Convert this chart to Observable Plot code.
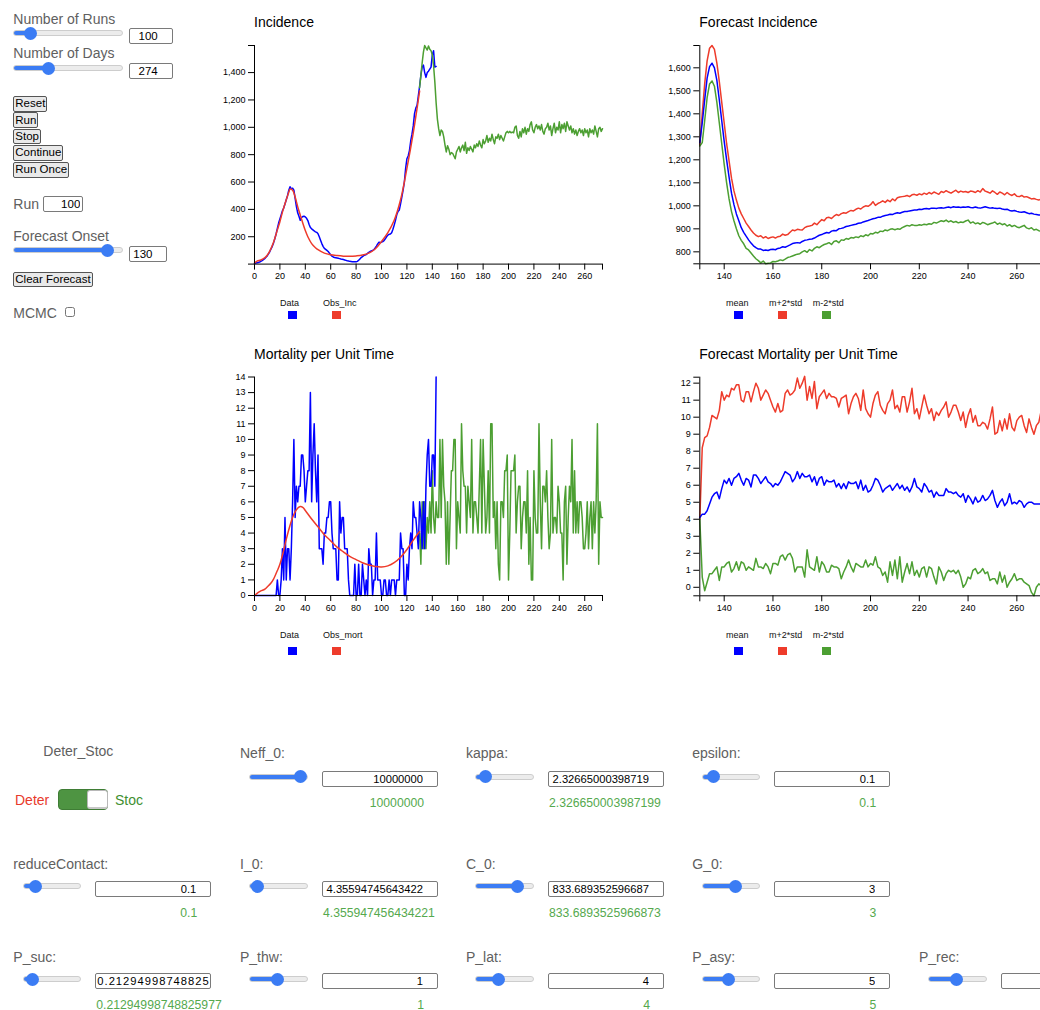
<!DOCTYPE html>
<html><head><meta charset="utf-8">
<script src="https://cdn.jsdelivr.net/npm/d3@7"></script>
<script src="https://cdn.jsdelivr.net/npm/@observablehq/plot@0.6"></script>
<style>
body{margin:0;width:1040px;height:1010px;overflow:hidden;position:relative;font-family:"Liberation Sans",Arial,Helvetica,sans-serif;background:#fff;}
.abs{position:absolute;white-space:nowrap;line-height:1;}
.lbl{font-size:14px;color:#606060;}
.ttl{font-size:14px;color:#000;}
.leg{font-size:9px;color:#111;}
.sq{position:absolute;width:9px;height:8.5px;}
.green{font-size:12.2px;color:#55a94e;box-sizing:border-box;text-align:right;}
input[type=range]{-webkit-appearance:none;appearance:none;position:absolute;margin:0;padding:0;height:16px;background:transparent;}
input[type=range]::-webkit-slider-runnable-track{height:6px;border-radius:3px;border:1px solid #cdcdcd;background:linear-gradient(to right,#3b7cf4 0,#3b7cf4 var(--p),#ececec var(--p),#ececec 100%);}
input[type=range]::-webkit-slider-thumb{-webkit-appearance:none;appearance:none;width:13px;height:13px;border-radius:50%;background:#3b7cf4;margin-top:-4.5px;border:none;}
input.box{position:absolute;box-sizing:border-box;margin:0;border:1px solid #7a7a7a;border-radius:2px;font-family:inherit;font-size:11.2px;text-align:right;padding:0 14px 0 1px;background:#fff;color:#000;height:16px;}
button{position:absolute;margin:0;padding:0 1px;height:15.5px;font-family:inherit;font-size:11.5px;line-height:13px;border:1px solid #555;border-radius:2px;background:#e9e9e9;color:#000;white-space:nowrap;}
svg{position:absolute;}
</style>
</head><body>
<script>
// ---------------- DATA ----------------
const incDataVals = [5,8,10,12,15,20,25,32,40,50, 60,75,90,110,130,155,185,220,260,300, 330,360,390,410,440,470,500,540,565,550, 555,540,480,420,375,350,320,340,348,350, 345,335,318,290,268,258,250,242,236,232, 222,200,175,150,130,115,108,100,92,80, 68,58,52,48,46,44,42,40,37,35, 33,30,27,24,22,20,19,18,18,17, 17,20,28,38,48,55,62,66,70,78, 86,92,96,100,106,118,132,148,160,158, 160,165,172,185,200,212,218,220,230,255, 285,320,360,385,395,440,490,540,600,700, 770,790,830,900,950,1010,1100,1140,1160,1230, 1300,1380,1440,1455,1400,1365,1400,1410,1425,1440, 1530,1560,1440,1445];
const obsIncDays = [0,2,5,8,10,12,15,18,20,22,25,27,28,30,32,34,36,38,40,42,45,48,50,55,60,65,70,75,80,85,90,95,100,105,110,115,120,125,130];
const obsIncVals = [8,22,30,45,65,95,160,250,310,380,470,525,548,540,490,420,360,300,245,200,150,120,105,80,68,62,58,57,60,66,80,110,165,230,320,470,700,960,1265];
const incSimVals = [1290,1380,1470,1550,1598,1580,1565,1595,1570,1560,
 1530,1450,1330,1180,1060,990,940,980,970,930,
 870,820,865,840,800,815,810,790,770,820,
 840,860,820,850,870,830,890,810,850,830,
 860,840,820,870,850,880,860,900,870,850,
 910,880,900,940,890,920,900,950,910,880,
 930,920,950,910,940,920,900,930,960,970,
 960,970,960,965,960,1000,1010,940,920,970,
 930,990,960,1000,950,990,970,1020,1040,980,
 960,1000,1020,990,1010,980,1020,970,950,990,
 1000,1030,980,1010,940,990,1030,960,1000,980,
 1040,960,1020,990,1030,970,1040,1010,980,1010,
 960,990,950,980,940,970,990,960,980,940,
 990,960,980,930,990,960,980,950,1010,970,
 930,990,1000,970,990];

const mortDataVals = [0,0,0,0,0,0,0,0,0,0, 0,0,0,0,0,0,0,0,1,0, 0,1,3,1,5,1,3,3,1,3, 6,10,5,7,6,7,7,9,9,8, 6,7,8,8,13,6,9,11,8,6, 9,3,3,3,2,4,4,5,5,6, 6,4,3,3,3,1,1,6,4,5, 5,3,3,3,1,0,0,0,0,2, 0,0,2,0,0,2,1,0,1,0, 3,2,2,0,1,1,4,1,1,1, 0,0,1,1,0,0,1,0,1,1, 1,0,1,1,1,4,3,3,0,0, 2,1,3,4,3,6,5,5,4,3, 6,5,3,6,3,7,9,10,7,7, 9,9,7,14];
const obsMortDays = [0,3,5,8,10,13,15,18,20,23,25,28,30,33,36,38,40,45,50,55,60,65,70,75,80,85,90,95,100,105,110,115,120,125,130];
const obsMortVals = [0,0.2,0.3,0.4,0.55,0.8,1.05,1.6,2.0,2.9,3.6,4.5,5.0,5.5,5.7,5.65,5.45,4.9,4.4,3.9,3.5,3.1,2.8,2.5,2.3,2.1,1.95,1.86,1.83,1.9,2.1,2.45,2.95,3.55,4.1];
const mortSimVals = [4,2,6,3,6,3,5,4,6,4,
 8,5,4,6,5,5,10,5,10,7,
 6,2,6,2,5,8,8,10,10,3,
 6,5,4,11,8,7,7,4,7,6,
 5,10,4,6,6,5,4,7,10,4,
 10,7,4,5,8,4,11,11,5,6,
 3,6,2,1,6,6,5,8,8,9,
 1,4,8,8,8,9,4,6,7,7,
 3,5,6,6,4,8,2,5,1,1,
 8,5,4,4,11,6,3,7,7,6,
 8,5,3,4,10,4,5,5,4,7,
 6,4,4,1,6,7,2,5,7,6,
 10,4,8,4,6,4,6,6,5,3,
 3,4,6,3,5,6,3,6,4,6,
 11,2,6,5,5];

const fIncMean = [1275,1360,1460,1555,1605,1620,1600,1545,1460,1370,
 1280,1200,1125,1055,1005,965,935,905,885,868,
 852,838,826,818,812,812,806,808,806,810,
 811,809,815,817,822,820,825,830,836,838,
 840,838,845,850,852,855,856,860,866,872,
 875,880,884,882,890,893,892,900,902,905,
 910,912,915,918,920,924,925,930,933,936,
 940,944,946,950,950,955,958,960,963,962,
 967,970,968,972,975,975,978,980,982,982,
 985,984,987,988,986,990,990,988,991,992,
 990,993,995,992,996,994,995,993,995,994,
 996,993,992,995,992,990,993,996,993,990,
 992,989,988,990,986,984,985,980,978,980,
 976,973,972,974,970,966,968,964,962,960,
 961,958,960,957,955];
const fIncUp = [1265,1400,1530,1630,1685,1697,1680,1620,1540,1450,
 1360,1270,1195,1120,1065,1025,990,965,945,925,
 910,895,882,872,866,870,860,866,858,862,
 865,860,866,868,877,872,875,885,895,892,
 898,896,895,905,910,912,915,925,918,930,
 940,935,948,950,945,955,962,958,966,970,
 968,975,980,978,985,990,986,995,1000,998,
 1005,1018,1002,1010,1015,1022,1015,1025,1018,1030,
 1022,1035,1038,1040,1042,1045,1040,1048,1050,1046,
 1052,1048,1055,1050,1058,1052,1060,1055,1050,1062,
 1058,1066,1060,1055,1062,1068,1058,1064,1060,1062,
 1058,1064,1062,1058,1066,1060,1075,1064,1060,1055,
 1065,1058,1050,1060,1055,1048,1058,1050,1045,1052,
 1042,1040,1045,1038,1040,1035,1030,1032,1028,1025,
 1030,1026,1022,1025,1020];
const fIncLow = [1260,1275,1370,1470,1530,1543,1520,1450,1360,1270,
 1180,1100,1030,975,935,900,870,850,835,815,
 808,795,782,770,762,752,760,748,750,752,
 758,757,760,765,762,768,775,778,782,786,
 790,792,800,805,798,810,804,815,822,818,
 826,832,835,840,832,845,848,840,852,850,
 858,855,862,860,865,862,870,866,874,870,
 880,878,885,882,890,888,895,892,898,900,
 896,900,898,905,910,915,912,918,915,914,
 918,916,920,918,922,920,928,925,930,935,
 932,938,930,935,928,932,926,930,928,934,
 938,925,930,922,926,920,928,924,918,922,
 925,930,920,925,918,922,912,918,910,915,
 908,905,910,915,904,900,905,895,898,892,
 890,894,888,890,886];

const fMortMean = [4.1,4.3,4.3,4.5,4.9,5.3,5.5,5.6,5.2,5.8,
 6.3,6.1,6.4,6.0,6.4,6.5,6.7,6.3,6.0,6.4,
 6.3,5.9,6.6,6.6,6.4,6.1,6.3,6.5,6.2,6.1,
 5.9,6.1,6.0,6.2,6.5,6.8,6.7,6.6,6.2,6.4,
 6.8,6.4,6.7,6.5,6.5,6.6,6.2,6.5,6.0,6.4,
 6.5,6.0,6.3,6.2,6.2,6.3,5.9,6.1,5.8,6.1,
 5.8,6.2,6.1,6.1,6.2,5.8,6.3,5.7,6.0,5.6,
 5.7,6.0,6.4,6.3,6.0,5.6,5.8,5.9,6.0,5.7,
 5.9,6.1,5.8,6.0,5.7,5.9,5.6,5.9,6.4,5.9,
 5.8,5.6,6.1,5.9,5.6,5.7,5.3,5.6,5.4,5.4,
 5.4,5.8,5.6,5.6,5.5,5.6,5.4,5.3,5.5,5.0,
 5.4,5.2,4.9,5.3,5.0,5.1,5.4,5.1,5.2,5.4,
 5.7,5.1,4.7,5.0,5.2,4.8,5.0,5.5,4.9,5.0,
 4.9,5.1,5.0,4.7,4.9,5.0,5.0,4.9,4.9,4.9,
 4.9,4.9,4.9,4.9,4.9];
const fMortUp = [4.0,8.2,8.8,8.9,9.4,10.1,10.0,9.9,10.4,11.5,
 11.0,11.3,11.2,11.7,11.6,11.9,11.9,11.0,10.9,11.5,
 11.5,10.9,11.5,12.0,11.7,11.0,11.3,11.6,11.4,11.0,
 10.6,10.3,10.8,10.3,10.4,11.4,11.6,11.3,11.4,11.6,
 12.3,11.7,12.0,12.4,11.0,11.8,11.1,12.1,10.5,11.2,
 11.4,11.6,11.1,11.4,11.2,11.2,11.1,10.6,11.1,11.2,
 11.3,10.2,10.8,11.2,11.4,11.1,10.4,11.6,10.5,10.2,
 10.0,10.8,11.3,11.5,10.7,10.4,10.2,10.8,11.0,11.6,
 10.5,10.7,10.3,11.2,11.2,10.3,10.9,11.7,10.2,10.5,
 9.9,10.6,11.3,10.7,10.2,10.5,9.8,10.3,10.1,10.4,
 10.6,10.9,10.0,10.3,10.7,10.7,10.3,9.8,10.3,9.4,
 10.1,10.5,9.7,10.1,9.5,9.5,9.7,9.6,9.3,9.9,
 10.6,9.0,9.1,9.8,9.2,9.9,9.3,10.2,9.4,9.2,
 9.8,10.0,10.1,9.5,9.1,9.9,9.4,9.0,9.5,9.7,
 10.4,9.8,9.9,10.0,9.7];
const fMortLow = [4.0,0.6,-0.2,0.3,0.8,0.8,1.0,1.2,0.4,1.2,
 1.2,1.4,1.5,0.9,1.1,1.5,1.0,1.5,1.4,1.0,
 1.2,1.1,1.0,1.7,1.2,1.2,1.1,1.4,1.2,0.8,
 1.4,1.4,1.3,1.8,1.9,1.6,1.9,2.0,1.7,0.9,
 1.2,1.2,1.2,0.6,2.2,1.2,1.1,1.0,1.8,0.9,
 1.5,1.3,0.9,0.9,1.3,1.2,1.2,1.1,0.5,0.9,
 1.2,1.6,1.2,0.9,1.4,1.3,1.2,1.2,1.6,1.2,
 1.4,1.3,1.8,1.2,1.1,0.7,0.9,0.3,1.5,0.7,
 1.6,0.5,1.8,0.3,0.9,1.4,0.8,1.5,0.7,1.0,
 0.6,1.1,1.2,0.6,1.2,1.1,0.6,0.2,1.2,0.9,
 0.4,0.8,1.0,0.9,1.0,0.8,1.0,0.6,0.0,0.2,
 0.6,0.5,1.0,1.1,0.8,0.9,1.1,0.8,0.9,0.4,
 0.5,0.5,0.2,0.9,0.3,0.7,0.0,0.3,0.5,0.8,
 0.4,0.5,0.5,0.3,0.2,0.1,-0.3,-0.5,0.0,0.2,
 0.1,0.3,0.2,0.0,0.1];

const xTicksFull = [0,20,40,60,80,100,120,140,160,180,200,220,240,260];
const xTicksFc = [140,160,180,200,220,240,260];
const yTicksInc = [200,400,600,800,1000,1200,1400];
const yTicksFcInc = [800,900,1000,1100,1200,1300,1400,1500,1600];
const yTicksMort = [0,1,2,3,4,5,6,7,8,9,10,11,12,13,14];
const yTicksFcMort = [0,1,2,3,4,5,6,7,8,9,10,11,12];

const BLUE = "#0000ff", RED = "#ee3b2b", GREEN = "#4c9f32";

// controls
const paramNames = ["Neff_0:","kappa:","epsilon:","reduceContact:","I_0:","C_0:","G_0:","P_suc:","P_thw:","P_lat:","P_asy:","P_rec:"];
const paramInputs = ["10000000","2.32665000398719","0.1","0.1","4.35594745643422","833.689352596687","3","0.21294998748825","1","4","5",""];
const paramShown = ["10000000","2.326650003987199","0.1","0.1","4.355947456434221","833.6893525966873","3","0.21294998748825977","1","4","5",""];
const paramFrac = [1,0.06,0.09,0.13,0.02,0.8,0.61,0.06,0.47,0.36,0.45,0.47];
const paramRow = [0,0,0,1,1,1,1,2,2,2,2,2];
const paramCol = [1,2,3,0,1,2,3,0,1,2,3,4];

// ---------------- HELPERS ----------------
const series = (start, vals) => vals.map((v, i) => ({x: start + i, y: v}));
const pairs = (xs, ys) => xs.map((x, i) => ({x, y: ys[i]}));
function el(tag, cls, css, text) {
  const e = document.createElement(tag);
  if (cls) e.className = cls;
  Object.assign(e.style, css || {});
  if (text != null) e.textContent = text;
  document.body.appendChild(e);
  return e;
}
function text(cls, left, top, t, extra) { return el("div", "abs " + cls, Object.assign({left: left + "px", top: top + "px"}, extra || {}), t); }
function slider(left, top, width, frac) {
  const s = el("input", "", {left: left + "px", top: top + "px", width: width + "px"});
  s.type = "range"; s.min = 0; s.max = 1000; s.value = Math.round(frac * 1000);
  const p = (6.5 + frac * (width - 13)) / width * 100;
  s.style.setProperty("--p", p + "%");
  return s;
}
function box(left, top, width, value, css) {
  const b = el("input", "box", Object.assign({left: left + "px", top: top + "px", width: width + "px"}, css || {}));
  b.type = "text"; b.value = value;
  return b;
}
function button(left, top, label) { return el("button", "", {left: left + "px", top: top + "px"}, label); }

function chart(cfg) {
  const fmt = d3.format(",");
  const [x0, x1] = cfg.xDomain, [y0, y1] = cfg.yDomain;
  const marks = cfg.series.map(s => Plot.line(s.data, {x: "x", y: "y", stroke: s.color, strokeWidth: 1.5, curve: s.curve || "linear"}));
  const xt = Array.from(new Set([...cfg.xTicks, x0, x1]));
  const yt = Array.from(new Set([...cfg.yTicks, y0, y1]));
  marks.push(
    Plot.ruleX([x0], {stroke: "#000"}),
    Plot.ruleY([y0], {stroke: "#000"}),
    Plot.axisX({ticks: xt, tickSize: 6, tickPadding: 3, label: null, stroke: "#000",
      tickFormat: d => cfg.xTicks.includes(d) ? fmt(d) : ""}),
    Plot.axisY({ticks: yt, tickSize: 6, tickPadding: 3, label: null, stroke: "#000",
      tickFormat: d => cfg.yTicks.includes(d) ? fmt(d) : ""})
  );
  const svg = Plot.plot({
    width: cfg.width, height: cfg.height,
    marginLeft: cfg.m[0], marginRight: cfg.m[1], marginTop: cfg.m[2], marginBottom: cfg.m[3],
    x: {domain: cfg.xDomain, label: null},
    y: {domain: cfg.yDomain, label: null},
    style: {fontFamily: '"Liberation Sans", Arial, sans-serif', fontSize: "9px", color: "#000", background: "transparent", overflow: "visible"},
    marks
  });
  svg.style.position = "absolute";
  svg.style.left = cfg.left + "px";
  svg.style.top = cfg.top + "px";
  document.body.appendChild(svg);
}
function legend(items, textTop, sqTop) {
  for (const it of items) {
    text("leg", it.tx, textTop, it.label);
    el("div", "sq", {left: it.sx + "px", top: sqTop + "px", background: it.color});
  }
}

// ---------------- LEFT PANEL ----------------
text("lbl", 13.3, 12.2, "Number of Runs");
slider(13.3, 25.3, 110, 0.105);
box(129.3, 28, 43.4, "100", {fontSize: "11.5px", padding: "0 14px 0 1px"});
text("lbl", 13.3, 45.9, "Number of Days");
slider(13.3, 60, 110, 0.29);
box(129.3, 62.8, 43.4, "274", {fontSize: "11.5px", padding: "0 14px 0 1px"});
button(13.3, 96, "Reset");
button(13.3, 112.4, "Run");
button(13.3, 128.6, "Stop");
button(13.3, 145, "Continue");
button(13.3, 162, "Run Once");
text("lbl", 13.3, 197.2, "Run");
box(42.7, 195.5, 40.6, "100", {fontSize: "11.5px", padding: "0 2px 0 1px"});
text("lbl", 13.3, 228.8, "Forecast Onset");
slider(13.3, 242, 110, 0.91);
box(129.3, 246, 38, "130", {fontSize: "11.5px", padding: "0 1px 0 3px", textAlign: "left"});
button(13.3, 271.5, "Clear Forecast");
text("lbl", 13.3, 305.5, "MCMC");
const cb = el("input", "", {position: "absolute", left: "64.5px", top: "307px", width: "10px", height: "10px", margin: "0"});
cb.type = "checkbox";

// ---------------- CHARTS ----------------
text("ttl", 254, 15.4, "Incidence");
chart({left: 200, top: 30, width: 420, height: 260, m: [54, 18, 15, 26.4],
  xDomain: [0, 274], yDomain: [0, 1598], xTicks: xTicksFull, yTicks: yTicksInc,
  series: [
    {data: series(0, incDataVals), color: BLUE},
    {data: pairs(obsIncDays, obsIncVals), color: RED, curve: "catmull-rom"},
    {data: series(130, incSimVals), color: GREEN}
  ]});
legend([{label: "Data", tx: 280, sx: 288.3, color: BLUE}, {label: "Obs_Inc", tx: 323, sx: 332.3, color: RED}], 298.8, 310.8);

text("ttl", 699.3, 15.4, "Forecast Incidence");
chart({left: 645, top: 30, width: 420, height: 260, m: [54.3, 14.5, 15, 26.7],
  xDomain: [130, 274], yDomain: [748, 1697], xTicks: xTicksFc, yTicks: yTicksFcInc,
  series: [
    {data: series(130, fIncUp), color: RED},
    {data: series(130, fIncLow), color: GREEN},
    {data: series(130, fIncMean), color: BLUE}
  ]});
legend([{label: "mean", tx: 726, sx: 734, color: BLUE}, {label: "m+2*std", tx: 769, sx: 778, color: RED}, {label: "m-2*std", tx: 812.7, sx: 822, color: GREEN}], 298.8, 310.8);

text("ttl", 254, 347.4, "Mortality per Unit Time");
chart({left: 200, top: 360, width: 420, height: 260, m: [54, 18, 16.5, 25],
  xDomain: [0, 274], yDomain: [0, 14], xTicks: xTicksFull, yTicks: yTicksMort,
  series: [
    {data: series(130, mortSimVals), color: GREEN},
    {data: series(0, mortDataVals), color: BLUE},
    {data: pairs(obsMortDays, obsMortVals), color: RED, curve: "catmull-rom"}
  ]});
legend([{label: "Data", tx: 280, sx: 288.3, color: BLUE}, {label: "Obs_mort", tx: 323, sx: 332.3, color: RED}], 630.5, 646.7);

text("ttl", 699.3, 347.4, "Forecast Mortality per Unit Time");
chart({left: 645, top: 360, width: 420, height: 260, m: [54.3, 14.5, 16.7, 24.7],
  xDomain: [130, 274], yDomain: [-0.5, 12.35], xTicks: xTicksFc, yTicks: yTicksFcMort,
  series: [
    {data: series(130, fMortUp), color: RED},
    {data: series(130, fMortLow), color: GREEN},
    {data: series(130, fMortMean), color: BLUE}
  ]});
legend([{label: "mean", tx: 726, sx: 734, color: BLUE}, {label: "m+2*std", tx: 769, sx: 778, color: RED}, {label: "m-2*std", tx: 812.7, sx: 822, color: GREEN}], 630.5, 646.7);

// ---------------- PARAMETER PANEL ----------------
text("lbl", 43.3, 743.8, "Deter_Stoc");
text("lbl", 15, 793.2, "Deter", {color: "#e8392b"});
el("div", "", {position: "absolute", left: "58.3px", top: "789.3px", width: "50px", height: "20.7px", boxSizing: "border-box", borderRadius: "4px", background: "#4e9442", border: "1px solid #3f7d35"});
el("div", "", {position: "absolute", left: "87.3px", top: "789.8px", width: "20.5px", height: "19.7px", boxSizing: "border-box", borderRadius: "3px", background: "#fff", border: "1px solid #b8b8b8", borderBottom: "2px solid #c8c8c8"});
text("lbl", 115, 793.2, "Stoc", {color: "#3e8f30"});

const colX = [13.3, 240, 466, 692.3, 919];
const rowLabelTop = [745.5, 856.8, 949.8];
const rowSliderTop = [768.7, 878, 971];
const rowBoxTop = [770.5, 880.8, 973.2];
const rowGreenTop = [796.7, 907, 999];
paramNames.forEach((name, i) => {
  const x = colX[paramCol[i]], r = paramRow[i];
  text("lbl", x, rowLabelTop[r], name);
  slider(x + 9.3, rowSliderTop[r], 58.5, paramFrac[i]);
  const fill = name === "P_suc:";
  box(x + 82, rowBoxTop[r], 116, paramInputs[i], fill ? {textAlign: "left", padding: "0 1px", letterSpacing: "1px"} : null);
  if (paramShown[i]) text("green", x + 83, rowGreenTop[r], paramShown[i], {width: "101px"});
});
</script>
</body></html>
